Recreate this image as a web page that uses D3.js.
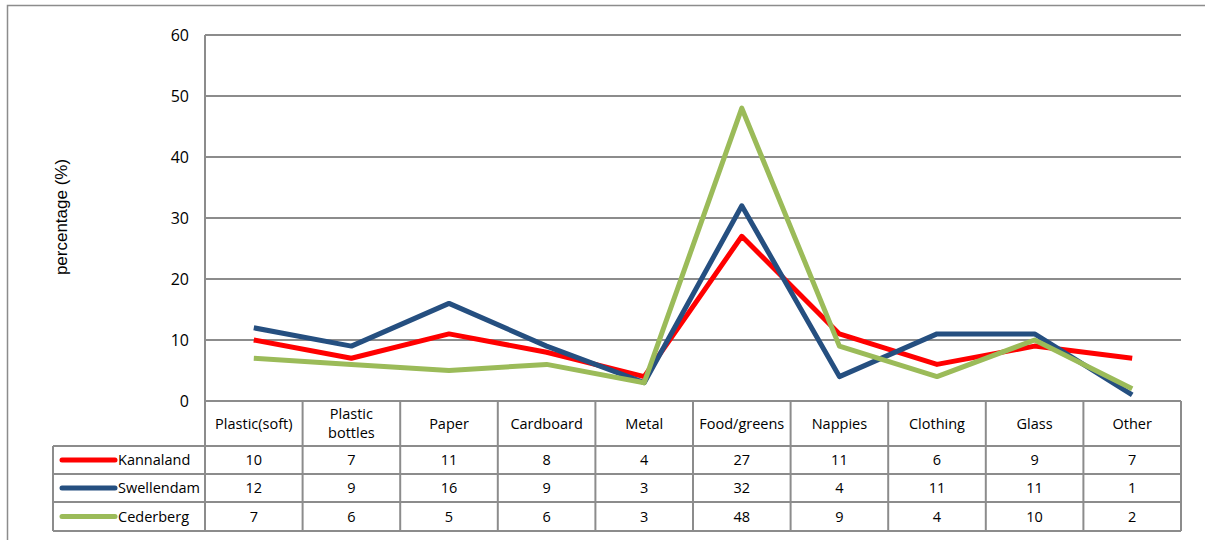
<!DOCTYPE html>
<html><head><meta charset="utf-8">
<script src="https://cdn.jsdelivr.net/npm/d3@7"></script>
<style>body{margin:0;background:#fff}svg{display:block}text{font-family:"Open Sans","DejaVu Sans",sans-serif}</style>
</head><body><svg id="c" width="1205" height="540"></svg>
<script>
const categories = [["Plastic(soft)"],["Plastic","bottles"],["Paper"],["Cardboard"],["Metal"],["Food/greens"],["Nappies"],["Clothing"],["Glass"],["Other"]];
const seriesNames = ["Kannaland","Swellendam","Cederberg"];
const kannaland = [10,7,11,8,4,27,11,6,9,7];
const swellendam = [12,9,16,9,3,32,4,11,11,1];
const cederberg = [7,6,5,6,3,48,9,4,10,2];
const yTicks = [0,10,20,30,40,50,60];
const colors = ["#ff0000","#254f80","#9bbb59"];
const series = [kannaland, swellendam, cederberg];

const svg = d3.select("#c");
const L=205, R=1181, T=35, B=401;
const x = d3.scaleBand().domain(d3.range(categories.length)).range([L,R]);
const y = d3.scaleLinear().domain([0,60]).range([B,T]);
const grid="#8c8c8c";

// outer border
svg.append("path").attr("d","M7.5,540 L7.5,5.5 L1205,5.5").attr("fill","none").attr("stroke","#8c8c8c").attr("stroke-width",1.5);

// gridlines
svg.append("g").selectAll("line").data(yTicks.filter(d=>d>0)).join("line")
  .attr("x1",L).attr("x2",R).attr("y1",d=>y(d)).attr("y2",d=>y(d))
  .attr("stroke",grid).attr("stroke-width",2);
// y axis line
svg.append("line").attr("x1",L).attr("x2",L).attr("y1",T).attr("y2",B).attr("stroke",grid).attr("stroke-width",2);
// tick labels
svg.append("g").selectAll("text").data(yTicks).join("text")
  .attr("x",189).attr("y",d=>y(d)).attr("dy","0.36em").attr("text-anchor","end")
  .attr("font-size",16).attr("fill","#000").text(d=>d);
// y title
svg.append("text").attr("transform","translate(67,217) rotate(-90)").attr("text-anchor","middle")
  .style("font-family","'Liberation Sans',Arial,sans-serif")
  .attr("font-size",17).text("percentage (%)");

// table
const rowY = [401,446,474,502,531];
const tL = 53;
const tg = svg.append("g");
tg.append("line").attr("x1",L).attr("x2",R).attr("y1",rowY[0]).attr("y2",rowY[0]).attr("stroke",grid).attr("stroke-width",2);
rowY.slice(1).forEach(yy=>tg.append("line").attr("x1",tL).attr("x2",R).attr("y1",yy).attr("y2",yy).attr("stroke",grid).attr("stroke-width",2));
const vx = d3.range(categories.length+1).map(i=> i<categories.length? x(i): R);
vx.forEach(xx=>tg.append("line").attr("x1",xx).attr("x2",xx).attr("y1",rowY[0]).attr("y2",rowY[4]).attr("stroke",grid).attr("stroke-width",2));
tg.append("line").attr("x1",tL).attr("x2",tL).attr("y1",rowY[1]).attr("y2",rowY[4]).attr("stroke",grid).attr("stroke-width",2);

categories.forEach((c,i)=>{
  const cx = x(i)+x.bandwidth()/2;
  const t = tg.append("text").attr("text-anchor","middle").attr("font-size",14.5).attr("fill","#000");
  if(c.length===1){ t.append("tspan").attr("x",cx).attr("y",(rowY[0]+rowY[1])/2).attr("dy","0.36em").text(c[0]); }
  else { c.forEach((s,k)=>t.append("tspan").attr("x",cx).attr("y",(rowY[0]+rowY[1])/2 + (k-0.5)*19).attr("dy","0.36em").text(s)); }
});
series.forEach((vals,si)=>{
  const cy=(rowY[si+1]+rowY[si+2])/2;
  tg.append("line").attr("x1",62).attr("x2",115).attr("y1",cy).attr("y2",cy).attr("stroke",colors[si]).attr("stroke-width",5).attr("stroke-linecap","round");
  tg.append("text").attr("x",118).attr("y",cy).attr("dy","0.36em").attr("font-size",14.5).text(seriesNames[si]);
  vals.forEach((v,i)=>tg.append("text").attr("x",x(i)+x.bandwidth()/2).attr("y",cy).attr("dy","0.36em").attr("text-anchor","middle").attr("font-size",14.5).text(v));
});

const line = d3.line().x((d,i)=>x(i)+x.bandwidth()/2).y(d=>y(d));
series.forEach((vals,si)=>{
  svg.append("path").datum(vals).attr("d",line).attr("fill","none").attr("stroke",colors[si]).attr("stroke-width",5).attr("stroke-linejoin","round");
});
</script></body></html>
